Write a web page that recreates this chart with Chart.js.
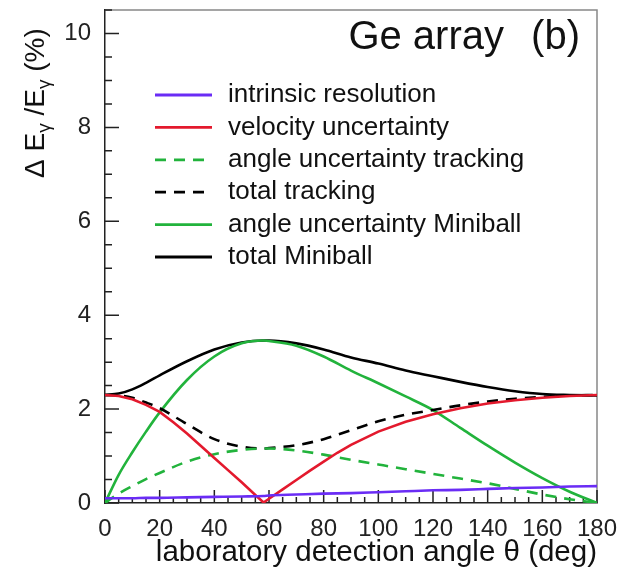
<!DOCTYPE html>
<html>
<head>
<meta charset="utf-8">
<script src="https://cdn.jsdelivr.net/npm/chart.js@4.4.0/dist/chart.umd.min.js"></script>
<style>
  body { margin: 0; background: #fff; }
</style>
</head>
<body>
<canvas id="resChart" width="623" height="571"></canvas>
<script>
// laboratory angle (deg)
const angles = [0, 5, 10, 15, 20, 30, 40, 50, 58, 60, 70, 80, 90, 100, 110, 120, 130, 140, 150, 160, 170, 180];

// Delta E / E in %
const intrinsic     = [0.10, 0.10, 0.10, 0.11, 0.11, 0.12, 0.13, 0.14, 0.15, 0.16, 0.18, 0.20, 0.21, 0.23, 0.25, 0.27, 0.28, 0.30, 0.32, 0.33, 0.35, 0.36];
const angleTracking = [0.00, 0.20, 0.36, 0.51, 0.64, 0.88, 1.04, 1.13, 1.16, 1.16, 1.12, 1.03, 0.92, 0.82, 0.72, 0.62, 0.52, 0.42, 0.30, 0.18, 0.08, 0.00];
const totalTracking = [2.30, 2.29, 2.24, 2.14, 2.02, 1.68, 1.36, 1.20, 1.16, 1.17, 1.23, 1.36, 1.55, 1.74, 1.88, 1.98, 2.08, 2.16, 2.22, 2.26, 2.29, 2.30];
const angleMiniball = [0.00, 0.60, 1.08, 1.52, 1.93, 2.62, 3.12, 3.40, 3.46, 3.45, 3.35, 3.12, 2.82, 2.55, 2.27, 1.98, 1.60, 1.22, 0.86, 0.53, 0.24, 0.00];
const totalMiniball = [2.30, 2.33, 2.42, 2.56, 2.72, 3.02, 3.27, 3.42, 3.46, 3.46, 3.40, 3.27, 3.10, 2.97, 2.82, 2.70, 2.58, 2.47, 2.38, 2.32, 2.30, 2.29];

// velocity term has a sharp zero, so it gets its own finer grid
const velocityAngles = [0, 5, 10, 15, 20, 25, 30, 35, 40, 45, 50, 55, 58, 60, 65, 70, 75, 80, 85, 90, 100, 110, 120, 130, 140, 150, 160, 170, 180];
const velocity       = [2.30, 2.28, 2.21, 2.09, 1.94, 1.72, 1.48, 1.22, 0.96, 0.70, 0.44, 0.17, 0.01, 0.09, 0.29, 0.49, 0.69, 0.88, 1.07, 1.24, 1.52, 1.73, 1.89, 2.02, 2.12, 2.19, 2.24, 2.28, 2.30];

const xTicks = [0, 20, 40, 60, 80, 100, 120, 140, 160, 180];
const yTicks = [0, 2, 4, 6, 8, 10];

const FONT = "'Liberation Sans', Arial, Helvetica, sans-serif";

function pts(xs, values) {
  return xs.map((a, i) => ({ x: a, y: values[i] }));
}

function series(label, xs, values, color, dashed, straight) {
  return {
    label: label,
    data: pts(xs, values),
    borderColor: color,
    backgroundColor: color,
    borderWidth: 2.6,
    borderDash: dashed ? [11, 8] : [],
    pointRadius: 0,
    tension: 0,
    cubicInterpolationMode: straight ? "default" : "monotone",
    fill: false,
  };
}

// inward ticks, frame, legend and titles
const decorPlugin = {
  id: "decor",
  beforeDatasetsDraw(chart) {
    const ctx = chart.ctx;
    const a = chart.chartArea;
    const xs = chart.scales.x;
    const ys = chart.scales.y;
    ctx.save();
    ctx.strokeStyle = "#888";
    ctx.lineWidth = 1.5;
    ctx.beginPath();
    ctx.moveTo(a.left, a.top);
    ctx.lineTo(a.right, a.top);
    ctx.lineTo(a.right, a.bottom);
    ctx.stroke();

    ctx.strokeStyle = "#222";
    ctx.lineWidth = 1.5;
    ctx.beginPath();
    for (let v = 0; v <= 10.5; v += 0.5) {
      const y = ys.getPixelForValue(v);
      const len = v % 2 === 0 ? 14 : 7;
      ctx.moveTo(a.left, y);
      ctx.lineTo(a.left + len, y);
    }
    for (let v = 0; v <= 180; v += 5) {
      const x = xs.getPixelForValue(v);
      const len = v % 20 === 0 ? 13 : 6;
      ctx.moveTo(x, a.bottom);
      ctx.lineTo(x, a.bottom - len);
    }
    ctx.stroke();
    ctx.restore();
  },
  afterDraw(chart) {
    const ctx = chart.ctx;
    const a = chart.chartArea;
    ctx.save();
    ctx.fillStyle = "#111";

    // panel label
    ctx.font = "40px " + FONT;
    ctx.textAlign = "right";
    ctx.textBaseline = "alphabetic";
    ctx.fillText("(b)", 580, 49);
    ctx.fillText("Ge array", 504, 49);

    // legend
    ctx.font = "26px " + FONT;
    ctx.textAlign = "left";
    ctx.textBaseline = "middle";
    chart.data.datasets.forEach((ds, i) => {
      const y = 95 + i * 32.4;
      ctx.strokeStyle = ds.borderColor;
      ctx.lineWidth = 2.8;
      ctx.setLineDash(ds.borderDash.length ? [11, 8] : []);
      ctx.beginPath();
      ctx.moveTo(155, y);
      ctx.lineTo(212, y);
      ctx.stroke();
      ctx.fillText(ds.label, 228, y);
    });
    ctx.setLineDash([]);

    // x title
    ctx.font = "29.5px " + FONT;
    ctx.textAlign = "right";
    ctx.textBaseline = "alphabetic";
    ctx.fillText("laboratory detection angle \u03b8 (deg)", a.right, 561);

    // y title with subscripts
    const parts = [
      { t: "\u0394 E", sub: false },
      { t: "\u03b3", sub: true },
      { t: " /E", sub: false },
      { t: "\u03b3", sub: true },
      { t: " (%)", sub: false },
    ];
    ctx.translate(44, 178);
    ctx.rotate(-Math.PI / 2);
    ctx.textAlign = "left";
    let pos = 0;
    parts.forEach((p) => {
      ctx.font = (p.sub ? "19px " : "28px ") + FONT;
      ctx.fillText(p.t, pos, p.sub ? 6 : 0);
      pos += ctx.measureText(p.t).width;
    });
    ctx.restore();
  },
};

const ctx = document.getElementById("resChart").getContext("2d");
const resChart = new Chart(ctx, {
  type: "line",
  data: {
    datasets: [
      series("intrinsic resolution", angles, intrinsic, "#6a2cf5", false),
      series("velocity uncertainty", velocityAngles, velocity, "#e3192d", false, true),
      series("angle uncertainty tracking", angles, angleTracking, "#22b33c", true),
      series("total tracking", angles, totalTracking, "#000000", true),
      series("angle uncertainty Miniball", angles, angleMiniball, "#22b33c", false),
      series("total Miniball", angles, totalMiniball, "#000000", false),
    ],
  },
  options: {
    responsive: false,
    animation: false,
    devicePixelRatio: 1,
    layout: { padding: { left: 0, right: 26, top: 10, bottom: 0 } },
    plugins: {
      legend: { display: false },
      tooltip: { enabled: false },
    },
    scales: {
      x: {
        type: "linear",
        min: 0,
        max: 180,
        afterBuildTicks: (scale) => {
          scale.ticks = xTicks.map((v) => ({ value: v }));
        },
        afterFit: (scale) => {
          scale.height = 68;
          scale.paddingLeft = 0;
          scale.paddingRight = 0;
        },
        ticks: {
          font: { family: FONT, size: 24 },
          color: "#222",
          padding: 4,
          maxRotation: 0,
          autoSkip: false,
        },
        grid: { display: false },
        border: { display: true, color: "#222", width: 1.5 },
      },
      y: {
        min: 0,
        max: 10.5,
        afterBuildTicks: (scale) => {
          scale.ticks = yTicks.map((v) => ({ value: v }));
        },
        afterFit: (scale) => {
          scale.width = 105;
          scale.paddingTop = 0;
          scale.paddingBottom = 0;
        },
        ticks: {
          font: { family: FONT, size: 24 },
          color: "#222",
          padding: 6,
        },
        grid: { display: false },
        border: { display: true, color: "#222", width: 1.5 },
      },
    },
  },
  plugins: [decorPlugin],
});
</script>
</body>
</html>
